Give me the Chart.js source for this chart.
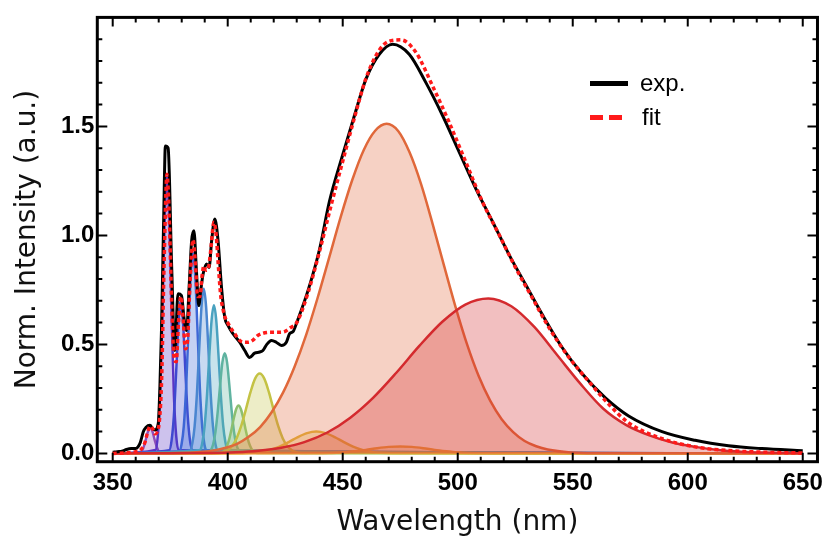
<!DOCTYPE html>
<html>
<head>
<meta charset="utf-8">
<script src="https://cdn.jsdelivr.net/npm/chart.js@4.4.1/dist/chart.umd.min.js"></script>
<style>
  html, body { margin: 0; padding: 0; background: #fff; }
</style>
</head>
<body>
<canvas id="spectrum" width="830" height="541"></canvas>
<script>
// measured spectrum (black line)
const expWl = [350, 352, 354, 356, 358, 360, 361, 362, 363.3, 364.5, 366.2, 367.3, 368.3, 369.8, 370.5,
  371.2, 372.2, 372.9, 374.1, 375.6, 377, 378.4, 379.9, 381, 382.1, 383.3, 384.3, 385.3, 386.4, 387.4,
  388.3, 389.3, 390.8, 391.9, 393, 394.4, 395.8, 397.3, 398.7, 400.1, 402.3, 405.2, 407.4, 409.5, 411.7,
  413.9, 415.3, 417, 419, 421.1, 423.3, 425.5, 426.9, 428.5, 430, 435, 440, 444.2, 450, 455.1, 460.1,
  465.9, 471.7, 478.9, 486.1, 493.4, 500.6, 507.8, 515.1, 522.3, 529.5, 536.7, 545.4, 554.1, 564.2,
  574.3, 588.8, 603.2, 617.7, 632.2, 650];
const expInt = [0.005, 0.008, 0.01, 0.018, 0.022, 0.022, 0.03, 0.05, 0.099, 0.12, 0.129, 0.115, 0.107, 0.137, 0.3,
  0.564, 1.1, 1.41, 1.40, 0.869, 0.472, 0.732, 0.724, 0.62, 0.564, 0.78, 0.975, 1.021, 0.838, 0.678,
  0.75, 0.823, 0.869, 0.853, 0.975, 1.075, 0.975, 0.762, 0.625, 0.587, 0.549, 0.51, 0.472, 0.44, 0.46,
  0.465, 0.472, 0.5, 0.518, 0.51, 0.495, 0.51, 0.549, 0.56, 0.6, 0.75, 0.94, 1.155, 1.37, 1.55, 1.717,
  1.831, 1.877, 1.831, 1.702, 1.55, 1.383, 1.216, 1.064, 0.912, 0.775, 0.638, 0.486, 0.365, 0.255,
  0.172, 0.1, 0.06, 0.035, 0.022, 0.012];

// sum of the fitted peaks (red dotted line)
const fitWl = [350, 355, 358, 360, 362, 364, 365, 366.3, 367.3, 368.3, 369.3, 370.3, 371.3, 372.3, 373.6,
  374.6, 375.6, 376.6, 377.6, 378.6, 379.6, 380.6, 381.6, 382.6, 383.6, 384.9, 385.9, 386.9, 387.9, 388.9,
  389.6, 390.6, 391.6, 392.6, 394, 395, 396, 397, 398, 399, 400, 401, 403, 405, 407, 409, 411, 413, 415,
  417, 419, 421, 423, 425, 427, 430, 435, 440, 445, 450, 455.1, 460.1, 465.9, 470, 475.3, 481.8, 489,
  496.2, 503.5, 510.7, 518, 525.2, 532.4, 539.6, 548.3, 557, 565.7, 574.3, 588.8, 603.2, 617.7, 635, 650];
const fitInt = [0, 0.002, 0.005, 0.008, 0.015, 0.05, 0.09, 0.125, 0.115, 0.09, 0.1, 0.15, 0.35, 0.85, 1.28,
  1.08, 0.7, 0.45, 0.42, 0.6, 0.72, 0.62, 0.48, 0.53, 0.78, 0.98, 0.88, 0.72, 0.72, 0.82,
  0.86, 0.84, 0.85, 0.93, 1.06, 1.0, 0.85, 0.72, 0.66, 0.62, 0.6, 0.58, 0.55, 0.52, 0.51, 0.51, 0.52, 0.54, 0.55,
  0.555, 0.556, 0.556, 0.556, 0.56, 0.575, 0.6, 0.74, 0.93, 1.14, 1.34, 1.54, 1.72, 1.85, 1.89, 1.897, 1.84, 1.687,
  1.52, 1.337, 1.155, 1.003, 0.851, 0.714, 0.578, 0.441, 0.33, 0.225, 0.14, 0.068, 0.03, 0.013, 0.005, 0.002];

// fitted peaks
const p366Wl = [350, 362.3, 363.3, 364.3, 365.3, 366.3, 367.3, 368.3, 369.3, 370.3, 650];
const p366Val = [0, 0.008, 0.025, 0.06, 0.10, 0.12, 0.10, 0.06, 0.025, 0.008, 0];
const p374Wl = [350, 368.6, 369.6, 370.6, 371.6, 372.6, 373.6, 374.6, 375.6, 376.6, 377.6, 378.6, 650];
const p374Val = [0, 0.016, 0.08, 0.268, 0.635, 1.068, 1.27, 1.068, 0.635, 0.268, 0.08, 0.016, 0];
const p380Wl = [350, 374.6, 375.6, 376.6, 377.6, 378.6, 379.6, 380.6, 381.6, 382.6, 383.6, 384.6, 650];
const p380Val = [0, 0.015, 0.06, 0.174, 0.377, 0.6, 0.70, 0.6, 0.377, 0.174, 0.06, 0.015, 0];
const p385Wl = [350, 378.9, 379.9, 380.9, 381.9, 382.9, 383.9, 384.9, 385.9, 386.9, 387.9, 388.9, 389.9, 390.9, 650];
const p385Val = [0, 0.01, 0.04, 0.124, 0.299, 0.558, 0.811, 0.92, 0.811, 0.558, 0.299, 0.124, 0.04, 0.01, 0];
const p390Wl = [350, 383.6, 384.6, 385.6, 386.6, 387.6, 388.6, 389.6, 390.6, 391.6, 392.6, 393.6, 394.6, 395.6, 650];
const p390Val = [0, 0.013, 0.045, 0.123, 0.272, 0.479, 0.674, 0.755, 0.674, 0.479, 0.272, 0.123, 0.045, 0.013, 0];
const p394Wl = [350, 388, 389, 390, 391, 392, 393, 394, 395, 396, 397, 398, 399, 400, 650];
const p394Val = [0, 0.016, 0.051, 0.13, 0.269, 0.449, 0.613, 0.68, 0.613, 0.449, 0.269, 0.13, 0.051, 0.016, 0];
const p399Wl = [350, 391.7, 392.7, 393.7, 394.7, 395.7, 396.7, 397.7, 398.7, 399.7, 400.7, 401.7, 402.7, 403.7, 404.7, 405.7, 650];
const p399Val = [0, 0.005, 0.015, 0.043, 0.101, 0.196, 0.315, 0.419, 0.46, 0.419, 0.315, 0.196, 0.101, 0.043, 0.015, 0.005, 0];
const p405Wl = [350, 396.7, 397.7, 398.7, 399.7, 400.7, 401.7, 402.7, 403.7, 404.7, 405.7, 406.7, 407.7, 408.7, 409.7, 410.7, 411.7, 412.7, 650];
const p405Val = [0, 0.002, 0.006, 0.015, 0.035, 0.067, 0.113, 0.164, 0.204, 0.22, 0.204, 0.164, 0.113, 0.067, 0.035, 0.015, 0.006, 0.002, 0];
const p414Wl = [350, 395.9, 397.9, 399.9, 401.9, 403.9, 405.9, 407.9, 409.9, 411.9, 413.9, 415.9, 417.9, 419.9, 421.9, 423.9, 425.9, 427.9, 429.9, 431.9, 650];
const p414Val = [0, 0.002, 0.005, 0.014, 0.034, 0.07, 0.127, 0.202, 0.281, 0.343, 0.366, 0.343, 0.281, 0.202, 0.127, 0.07, 0.034, 0.014, 0.005, 0.002, 0];
const p439Wl = [350, 406.5, 410.5, 414.5, 418.5, 422.5, 426.5, 430.5, 434.5, 438.5, 442.5, 446.5, 450.5, 454.5, 458.5, 462.5, 466.5, 470.5, 650];
const p439Val = [0, 0.001, 0.003, 0.007, 0.016, 0.031, 0.052, 0.075, 0.093, 0.1, 0.093, 0.075, 0.052, 0.031, 0.016, 0.007, 0.003, 0.001, 0];
const p475Wl = [350, 435, 440, 445, 450, 455, 460, 465, 470, 475, 480, 485, 490, 495, 500, 505, 510, 515, 650];
const p475Val = [0, 0.0003, 0.001, 0.002, 0.005, 0.01, 0.016, 0.024, 0.03, 0.032, 0.03, 0.024, 0.016, 0.01, 0.005, 0.002, 0.001, 0.0003, 0];
const p469Wl = [350, 379.1, 389.1, 394.1, 399.1, 404.1, 409.1, 414.1, 419.1, 424.1, 429.1, 434.1, 439.1, 444.1, 449.1, 454.1, 459.1, 464.1,
  469.1, 474.1, 479.1, 484.1, 489.1, 494.1, 499.1, 504.1, 509.1, 514.1, 519.1, 524.1, 529.1, 534.1, 539.1, 549.1, 559.1, 650];
const p469Val = [0, 0.002, 0.008, 0.014, 0.026, 0.044, 0.076, 0.121, 0.189, 0.28, 0.399, 0.544, 0.714, 0.898, 1.084, 1.253, 1.391, 1.48,
  1.512, 1.479, 1.38, 1.234, 1.052, 0.859, 0.67, 0.499, 0.355, 0.242, 0.157, 0.098, 0.057, 0.033, 0.018, 0.0045, 0.001, 0];
const p513Wl = [350, 393.3, 403.3, 413.3, 423.3, 433.3, 443.3, 453.3, 463.3, 473.3, 483.3, 493.3, 503.3, 513.3,
  523.3, 533.3, 543.3, 553.3, 563.3, 573.3, 583.3, 593.3, 603.3, 613.3, 623.3, 633.3, 650];
const p513Val = [0, 0.002, 0.005, 0.012, 0.026, 0.052, 0.096, 0.164, 0.256, 0.37, 0.493, 0.604, 0.683, 0.711,
  0.675, 0.58, 0.45, 0.32, 0.205, 0.13, 0.083, 0.05, 0.03, 0.016, 0.008, 0.004, 0.001];

const xTicks = [350, 400, 450, 500, 550, 600, 650];
const yTicks = [0, 0.5, 1.0, 1.5];

// peak list, drawn from violet to red
const peaks = [
  [p366Wl, p366Val, '142,79,184'],
  [p374Wl, p374Val, '91,52,196'],
  [p380Wl, p380Val, '63,72,208'],
  [p385Wl, p385Val, '61,102,214'],
  [p390Wl, p390Val, '74,134,208'],
  [p394Wl, p394Val, '74,162,192'],
  [p399Wl, p399Val, '95,179,160'],
  [p405Wl, p405Val, '140,191,112'],
  [p414Wl, p414Val, '196,194,68'],
  [p439Wl, p439Val, '226,182,60'],
  [p475Wl, p475Val, '235,162,58'],
  [p469Wl, p469Val, '224,104,58'],
  [p513Wl, p513Val, '212,42,46']
];

const toPoints = (xs, ys) => xs.map((x, i) => ({ x: x, y: ys[i] }));

const datasets = [
  {
    label: 'fit',
    data: toPoints(fitWl, fitInt),
    borderColor: '#ff1a1a',
    borderWidth: 3.5,
    borderDash: [4, 3],
    fill: false,
    order: 0
  },
  {
    label: 'exp.',
    data: toPoints(expWl, expInt),
    borderColor: '#000',
    borderWidth: 3,
    fill: false,
    order: 1
  }
];

peaks.forEach((p, i) => {
  datasets.push({
    label: 'peak ' + (i + 1),
    data: toPoints(p[0], p[1]),
    borderColor: 'rgb(' + p[2] + ')',
    backgroundColor: 'rgba(' + p[2] + ',0.3)',
    borderWidth: 2.5,
    fill: 'origin',
    order: 2 + (peaks.length - 1 - i)
  });
});

// inward tick marks, frame and the small legend
const frameTicks = {
  id: 'frameTicks',
  afterDraw(chart) {
    const { ctx, chartArea: a, scales: { x, y } } = chart;
    ctx.save();
    ctx.strokeStyle = '#000';
    ctx.lineWidth = 2;
    ctx.beginPath();
    for (let v = 350; v <= 650; v += 10) {
      const px = x.getPixelForValue(v);
      const len = xTicks.includes(v) ? 9 : 5;
      ctx.moveTo(px, a.bottom); ctx.lineTo(px, a.bottom - len);
      ctx.moveTo(px, a.top); ctx.lineTo(px, a.top + len);
    }
    for (let k = 0; k <= 19; k++) {
      const py = y.getPixelForValue(k / 10);
      const len = k % 5 === 0 ? 10 : 5;
      ctx.moveTo(a.left, py); ctx.lineTo(a.left + len, py);
      ctx.moveTo(a.right, py); ctx.lineTo(a.right - len, py);
    }
    ctx.stroke();
    ctx.lineWidth = 3;
    ctx.strokeRect(a.left, a.top, a.right - a.left, a.bottom - a.top);

    // legend
    ctx.lineWidth = 5;
    ctx.beginPath();
    ctx.moveTo(590, 83.5); ctx.lineTo(628, 83.5);
    ctx.stroke();
    ctx.strokeStyle = '#ff1a1a';
    ctx.setLineDash([13, 6]);
    ctx.beginPath();
    ctx.moveTo(590, 117.5); ctx.lineTo(628, 117.5);
    ctx.stroke();
    ctx.setLineDash([]);
    ctx.fillStyle = '#000';
    ctx.font = '24px "Liberation Sans", Arial, sans-serif';
    ctx.textBaseline = 'middle';
    ctx.fillText('exp.', 640, 84);
    ctx.fillText('fit', 642, 118);
    ctx.restore();
  }
};

new Chart(document.getElementById('spectrum'), {
  type: 'line',
  data: { datasets: datasets },
  plugins: [frameTicks],
  options: {
    responsive: false,
    animation: false,
    cubicInterpolationMode: 'monotone',
    elements: { point: { radius: 0 } },
    layout: { padding: { top: 15, right: 11, bottom: 0, left: 0 } },
    plugins: {
      legend: { display: false },
      tooltip: { enabled: false }
    },
    scales: {
      x: {
        type: 'linear',
        min: 343.3,
        max: 656.4,
        afterFit: s => { s.height = 79.3; },
        grid: { display: false, drawTicks: false },
        border: { display: false },
        ticks: {
          stepSize: 50,
          includeBounds: false,
          autoSkip: false,
          maxRotation: 0,
          padding: 7,
          color: '#000',
          font: { family: 'Liberation Sans', size: 24, weight: 'bold' },
          callback: v => xTicks.includes(v) ? String(v) : ''
        },
        title: {
          display: true,
          text: 'Wavelength (nm)',
          color: '#111',
          font: { family: 'DejaVu Sans', size: 28 },
          padding: { top: 0, bottom: 1 }
        }
      },
      y: {
        min: -0.038,
        max: 2.0,
        afterFit: s => { s.width = 97.3; },
        grid: { display: false, drawTicks: false },
        border: { display: false },
        ticks: {
          stepSize: 0.5,
          includeBounds: false,
          padding: 3,
          color: '#000',
          font: { family: 'Liberation Sans', size: 24, weight: 'bold' },
          callback: v => yTicks.some(t => Math.abs(t - v) < 1e-6) ? v.toFixed(1) : ''
        },
        title: {
          display: true,
          text: 'Norm. Intensity (a.u.)',
          color: '#111',
          font: { family: 'DejaVu Sans', size: 28 },
          padding: { top: 11, bottom: 0 }
        }
      }
    }
  }
});
</script>
</body>
</html>
